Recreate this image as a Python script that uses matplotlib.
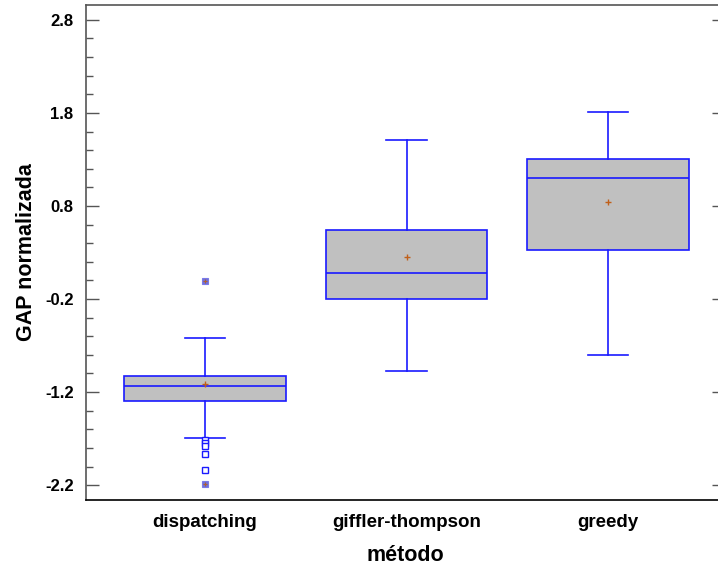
import matplotlib
matplotlib.use("Agg")
import matplotlib.pyplot as plt
from matplotlib.ticker import MultipleLocator, FixedLocator

plt.rcParams['font.family'] = ['Liberation Sans', 'DejaVu Sans']

methods = ["dispatching", "giffler-thompson", "greedy"]
whisker_low = [-1.691, -0.977, -0.802]
q1 = [-1.294, -0.203, 0.324]
median = [-1.139, 0.076, 1.104]
q3 = [-1.025, 0.539, 1.302]
whisker_high = [-0.623, 1.513, 1.808]
mean = [-1.114, 0.255, 0.846]
# outside points: near (open squares) and far (filled squares)
near_outliers = [[-1.716, -1.745, -1.781, -1.870, -2.039], [], []]
far_outliers = [[-0.006, -2.193], [], []]

yticks = [-2.2, -1.2, -0.2, 0.8, 1.8, 2.8]

fig = plt.figure(figsize=(7.18, 5.72), dpi=100)
# plot frame runs slightly past the right edge of the canvas
ax = fig.add_axes([86 / 718, 72 / 572, 638 / 718, 495 / 572])

positions = [1, 2, 3]
stats = []
for i, m in enumerate(methods):
    stats.append(dict(label=m, whislo=whisker_low[i], q1=q1[i], med=median[i],
                      q3=q3[i], whishi=whisker_high[i], mean=mean[i],
                      fliers=near_outliers[i]))

blue = '#1a1aff'
ax.bxp(stats, positions=positions, widths=0.8, capwidths=0.2,
       patch_artist=True, showmeans=True, showfliers=True,
       boxprops=dict(facecolor='#c0c0c0', edgecolor=blue, linewidth=1.2),
       medianprops=dict(color=blue, linewidth=1.2),
       whiskerprops=dict(color=blue, linewidth=1.2),
       capprops=dict(color=blue, linewidth=1.2),
       meanprops=dict(marker='+', markeredgecolor='#c0601a', markersize=5,
                      markeredgewidth=1.0),
       flierprops=dict(marker='s', markerfacecolor='white', markeredgecolor=blue,
                       markersize=4.5, markeredgewidth=1.0, linestyle='none'))

for p, vals in zip(positions, far_outliers):
    if vals:
        ax.plot([p] * len(vals), vals, linestyle='none', marker='s',
                markersize=5, markerfacecolor='#7070d8', markeredgecolor='#7a7ae8',
                markeredgewidth=0.8, zorder=4)
        ax.plot([p] * len(vals), vals, linestyle='none', marker='+',
                markersize=3, markeredgecolor='#b06030', markeredgewidth=0.8,
                zorder=5)

ax.set_xlim(0.409, 3.576)
ax.set_ylim(-2.36, 2.96)
ax.yaxis.set_major_locator(FixedLocator(yticks))
ax.yaxis.set_minor_locator(MultipleLocator(0.2))
ax.set_yticklabels([f"{t:.1f}" for t in yticks])
ax.set_xticks(positions)
ax.set_xticklabels(methods)

for lab in ax.get_xticklabels():
    lab.set_fontweight('bold')
    lab.set_fontsize(13.5)
for lab in ax.get_yticklabels():
    lab.set_fontweight('bold')
    lab.set_fontsize(12)

ax.tick_params(axis='x', length=0, pad=10)
ax.tick_params(axis='y', which='major', direction='in', length=9, width=1,
               color='#555555', pad=9, right=True)
ax.tick_params(axis='y', which='minor', direction='in', length=5, width=1,
               color='#555555', right=False)
ax.tick_params(axis='y', which='both', labelright=False)

for side in ['left', 'top', 'right']:
    ax.spines[side].set_color('#555555')
ax.spines['bottom'].set_color('black')
for s in ax.spines.values():
    s.set_linewidth(1.2)

ax.set_xlabel("método", fontsize=15.5, fontweight='bold', labelpad=10)
ax.set_ylabel("GAP normalizada", fontsize=15.5, fontweight='bold', labelpad=6)

fig.savefig("out.png", dpi=100)
